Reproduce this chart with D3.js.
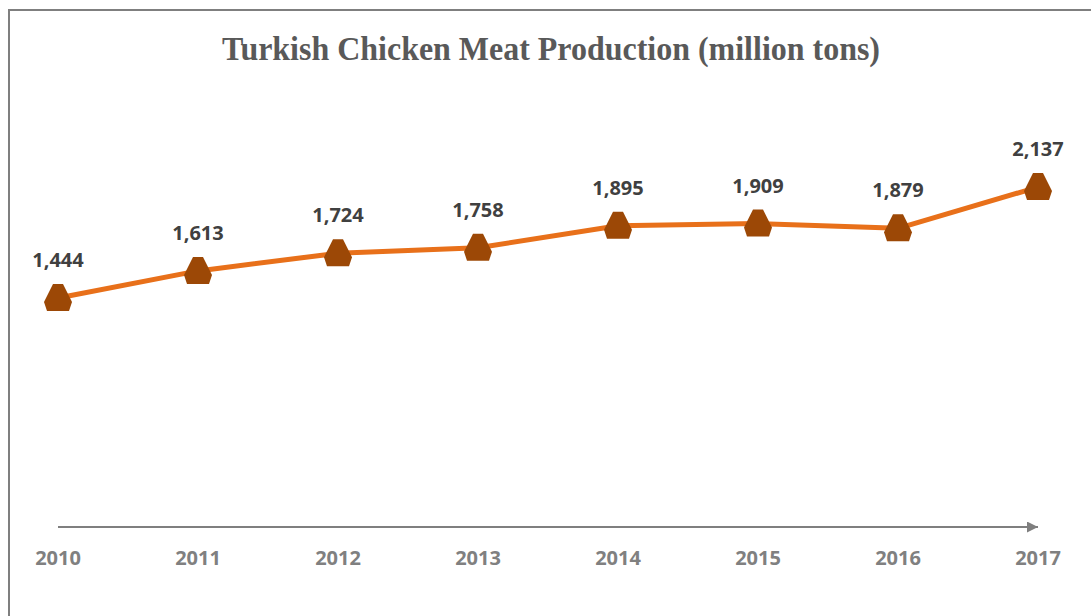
<!DOCTYPE html>
<html>
<head>
<meta charset="utf-8">
<script src="https://cdnjs.cloudflare.com/ajax/libs/d3/7.8.5/d3.min.js"></script>
<style>
  body { margin: 0; background: #fff; }
  svg { display: block; }
</style>
</head>
<body>
<script>
// chart data
var years = ["2010", "2011", "2012", "2013", "2014", "2015", "2016", "2017"];
var production = [1444, 1613, 1724, 1758, 1895, 1909, 1879, 2137];
var title = "Turkish Chicken Meat Production (million tons)";

var width = 1091,
    height = 616;

var svg = d3.select("body")
    .append("svg")
    .attr("width", width)
    .attr("height", height);

// outer frame (cut off on right and bottom)
svg.append("rect")
    .attr("x", 9)
    .attr("y", 10)
    .attr("width", 1100)
    .attr("height", 640)
    .attr("fill", "none")
    .attr("stroke", "#7f7f7f")
    .attr("stroke-width", 2);

// scales
var x = d3.scalePoint()
    .domain(years)
    .range([58, 1038]);

var y = d3.scaleLinear()
    .domain([0, 3000])
    .range([529, 49]);

// title
svg.append("text")
    .attr("x", 551)
    .attr("y", 60)
    .attr("text-anchor", "middle")
    .attr("textLength", 658)
    .attr("lengthAdjust", "spacingAndGlyphs")
    .style("font-family", "'Liberation Serif', 'Times New Roman', serif")
    .style("font-weight", "bold")
    .style("font-size", "33px")
    .style("fill", "#595959")
    .text(title);

// arrow marker for the axis line
svg.append("defs")
    .append("marker")
    .attr("id", "arrow")
    .attr("viewBox", "0 0 10 10")
    .attr("refX", 10)
    .attr("refY", 5)
    .attr("markerWidth", 8)
    .attr("markerHeight", 5.5)
    .attr("markerUnits", "strokeWidth")
    .attr("orient", "auto")
    .append("path")
    .attr("d", "M0,0L10,5L0,10Z")
    .attr("fill", "#7f7f7f");

svg.append("line")
    .attr("x1", x(years[0]))
    .attr("x2", x(years[years.length - 1]))
    .attr("y1", 527)
    .attr("y2", 527)
    .attr("stroke", "#7f7f7f")
    .attr("stroke-width", 2)
    .attr("marker-end", "url(#arrow)");

// year labels
svg.selectAll(".year")
    .data(years)
    .enter()
    .append("text")
    .attr("class", "year")
    .attr("x", function (d) { return x(d); })
    .attr("y", 565)
    .attr("text-anchor", "middle")
    .style("font-family", "'Open Sans', sans-serif")
    .style("font-weight", "bold")
    .style("font-size", "20px")
    .style("fill", "#808080")
    .text(function (d) { return d; });

var pts = years.map(function (d, i) { return [x(d), y(production[i])]; });

// the line
svg.append("path")
    .datum(pts)
    .attr("d", d3.line())
    .attr("fill", "none")
    .attr("stroke", "#e8701a")
    .attr("stroke-width", 5)
    .attr("stroke-linejoin", "round");

// truncated triangle markers
var markerPath = "M-5,-14L5,-14L14,4L11,13L-11,13L-14,4Z";
svg.selectAll(".pt")
    .data(pts)
    .enter()
    .append("path")
    .attr("class", "pt")
    .attr("transform", function (d) { return "translate(" + d[0] + "," + d[1] + ")"; })
    .attr("d", markerPath)
    .attr("fill", "#9c4806");

// value labels
svg.selectAll(".val")
    .data(production)
    .enter()
    .append("text")
    .attr("class", "val")
    .attr("x", function (d, i) { return x(years[i]); })
    .attr("y", function (d) { return y(d) - 31; })
    .attr("text-anchor", "middle")
    .style("font-family", "'Open Sans', sans-serif")
    .style("font-weight", "bold")
    .style("font-size", "20px")
    .style("fill", "#404040")
    .text(function (d) { return d3.format(",")(d); });
</script>
</body>
</html>
